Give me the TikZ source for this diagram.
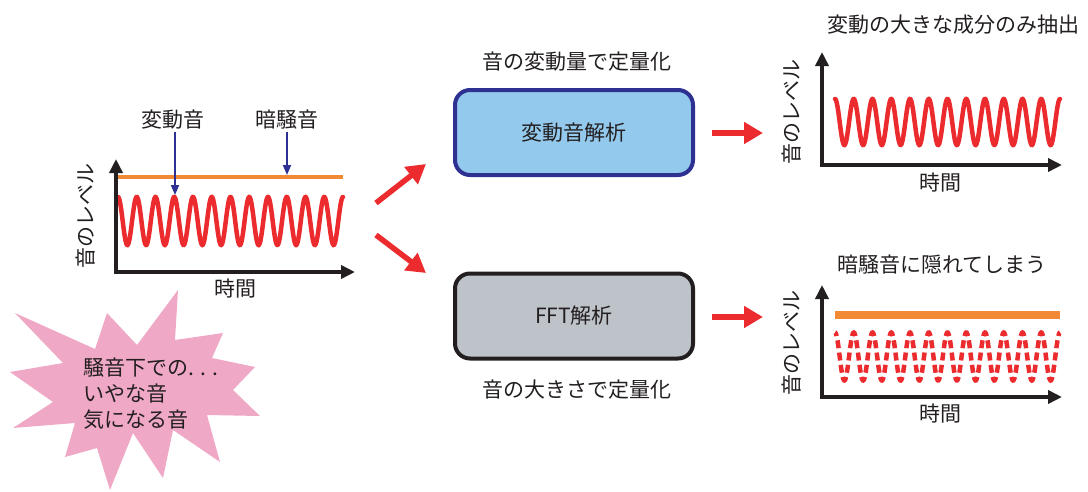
\documentclass[tikz,border=0pt]{standalone}
\usepackage{fontspec}
\setmainfont{Noto Sans CJK JP}
\usetikzlibrary{arrows.meta}
\definecolor{txt}{HTML}{231F20}
\definecolor{wavered}{HTML}{EC2B2F}
\definecolor{noiseorange}{HTML}{F28A35}
\definecolor{navy}{HTML}{2E3192}
\definecolor{boxblue}{HTML}{93C9EC}
\definecolor{boxgray}{HTML}{BEC3CA}
\definecolor{starpink}{HTML}{EFA8C5}
\tikzset{
  axis/.style={line width=3.5pt, draw=txt, line join=miter, {Triangle[length=14pt,width=13pt]}-{Triangle[length=14pt,width=13pt]}},
  wave/.style={line width=4.5pt, draw=wavered, line cap=round},
  dwave/.style={line width=4.5pt, draw=wavered, dash pattern=on 8pt off 4.36pt, dash phase=4pt},
  bluearrow/.style={line width=1.8pt, draw=navy, -{Triangle[length=10pt,width=8pt]}},
  redarrow/.style={line width=5.5pt, draw=wavered, -{Triangle[length=19pt,width=21pt]}},
  procbox/.style={rounded corners=15pt, line width=4pt, minimum width=238pt, minimum height=85pt, inner sep=0pt},
  lbl/.style={text=txt, inner sep=0pt},
}
\begin{document}
\begin{tikzpicture}[x=1pt,y=-1pt, font=\fontsize{21}{26}\selectfont]
\useasboundingbox (0,0) rectangle (1088,491);

% ---------- starburst ----------
\fill[starpink] (15,313) -- (95,349) -- (107,313) -- (137,345) -- (178,290) -- (175,340)
  -- (223,333) -- (212,358) -- (255,367) -- (233,390) -- (260,416) -- (207,415)
  -- (220,462) -- (173,430) -- (163,478) -- (133,433) -- (110,490) -- (97,448)
  -- (65,457) -- (75,423) -- (13,428) -- (53,402) -- (10,372) -- (63,363) -- cycle;
\node[lbl, anchor=west, align=left] (star) at (83,394) {騒音下での. . .\\いやな音\\気になる音};

% ---------- left graph ----------
\draw[noiseorange, line width=4pt] (118,177) -- (343,177);
\draw[wave] plot[domain=0:225, samples=500] ({118+\x}, {221-24*cos(\x/18.75*360)});
\draw[axis] (116,159) -- (116,272) -- (355,272);
\node[lbl, rotate=90] (ylab1) at (86,216) {音のレベル};
\node[lbl] (xlab1) at (235,289) {時間};
\node[lbl] (var) at (173,120) {変動音};
\node[lbl] (bg) at (287,120) {暗騒音};
\coordinate (pvar) at (175,195);
\coordinate (pbg) at (287,175);
\draw[bluearrow] (var.south -| pvar) ++(0,2) -- (pvar);
\draw[bluearrow] (bg.south -| pbg) ++(0,2) -- (pbg);

% ---------- middle ----------
\coordinate (a1s) at (376,203);
\coordinate (a1e) at (426,164);
\coordinate (a2s) at (376,235);
\coordinate (a2e) at (426,273);
\draw[redarrow] (a1s) -- (a1e);
\draw[redarrow] (a2s) -- (a2e);

\node[procbox, draw=navy, fill=boxblue] (box1) at (574,132.5) {};
\node[lbl] at (box1.center) {変動音解析};
\node[lbl] (cap1) at (577,62) {音の変動量で定量化};

\node[procbox, draw=txt, fill=boxgray] (box2) at (574,316) {};
\node[lbl] at (box2.center) {FFT解析};
\node[lbl] (cap2) at (577,390) {音の大きさで定量化};

\coordinate (r1s) at (712,133);
\coordinate (r1e) at (763,133);
\coordinate (r2s) at (712,317);
\coordinate (r2e) at (763,317);
\draw[redarrow] (r1s) -- (r1e);
\draw[redarrow] (r2s) -- (r2e);

% ---------- upper right graph ----------
\node[lbl] (t1) at (953,25) {変動の大きな成分のみ抽出};
\draw[wave] plot[domain=0:225, samples=500] ({835+\x}, {122-23*cos(\x/18.75*360)});
\draw[axis] (822,52) -- (822,165) -- (1062,165);
\node[lbl, rotate=90] (ylab2) at (792,112) {音のレベル};
\node[lbl] (xlab2) at (940,183) {時間};

% ---------- lower right graph ----------
\node[lbl] (t2) at (942,265) {暗騒音に隠れてしまう};
\draw[noiseorange, line width=8pt] (835,315) -- (1060,315);
\draw[dwave] plot[domain=0:225, samples=600] ({835+\x}, {356.5-24*cos(\x/18.75*360)});
\draw[axis] (822,285) -- (822,397) -- (1062,397);
\node[lbl, rotate=90] (ylab3) at (792,343) {音のレベル};
\node[lbl] (xlab3) at (940,414) {時間};
\end{tikzpicture}
\end{document}
